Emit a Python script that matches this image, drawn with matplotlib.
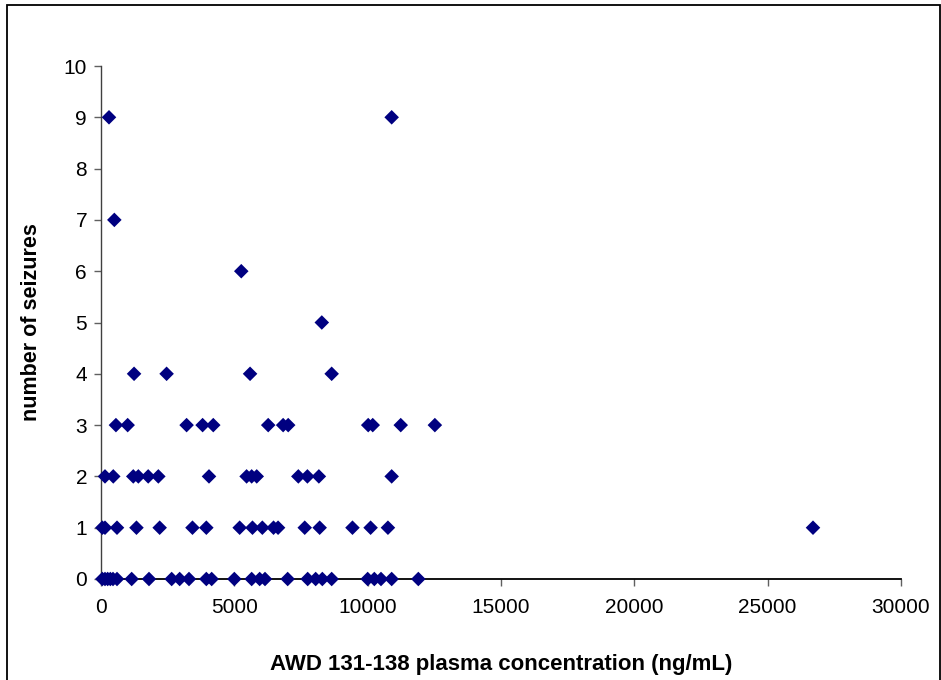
import matplotlib
matplotlib.use("Agg")
import matplotlib.pyplot as plt
from matplotlib.patches import Rectangle

plt.rcParams['font.family'] = ['Liberation Sans', 'DejaVu Sans']

# AWD 131-138 plasma concentration (ng/mL) grouped by number of seizures
conc_0 = [50, 150, 250, 350, 450, 600, 1150, 1800, 2650, 2950, 3300, 3950, 4150,
          5000, 5650, 5950, 6150, 7000, 7750, 8050, 8300, 8650, 10000, 10250,
          10500, 10900, 11900]
conc_1 = [50, 150, 600, 1330, 2200, 3430, 3950, 5200, 5680, 6050, 6470, 6640,
          7640, 8200, 9430, 10110, 10760, 26700]
conc_2 = [150, 460, 1210, 1400, 1770, 2150, 4050, 5460, 5650, 5840, 7400, 7740,
          8170, 10900]
conc_3 = [560, 1000, 3210, 3810, 4210, 6270, 6830, 7020, 10020, 10190, 11240, 12520]
conc_4 = [1240, 2460, 5590, 8650]
conc_5 = [8280]
conc_6 = [5260]
conc_7 = [500]
conc_9 = [300, 10900]

groups = [(0, conc_0), (1, conc_1), (2, conc_2), (3, conc_3), (4, conc_4),
          (5, conc_5), (6, conc_6), (7, conc_7), (9, conc_9)]

xs, ys = [], []
for n, vals in groups:
    xs.extend(vals)
    ys.extend([n] * len(vals))

x_ticks = [0, 5000, 10000, 15000, 20000, 25000, 30000]
y_ticks = list(range(0, 11))

fig = plt.figure(figsize=(9.41, 6.80), dpi=100)
ax = fig.add_axes([101/941, (680-579)/680, 800/941, 513/680])

ax.scatter(xs, ys, marker='D', s=55, color='#000080', edgecolors='none',
           zorder=3, clip_on=False)

ax.set_xlim(0, 30000)
ax.set_ylim(0, 10)
ax.set_xticks(x_ticks)
ax.set_yticks(y_ticks)
ax.set_xticklabels([str(t) for t in x_ticks])
ax.set_yticklabels([str(t) for t in y_ticks])

for s in ['top', 'right']:
    ax.spines[s].set_visible(False)
ax.spines['left'].set_color('#404040')
ax.spines['bottom'].set_color('black')
ax.spines['left'].set_linewidth(1.0)
ax.spines['bottom'].set_linewidth(1.3)

ax.tick_params(axis='both', direction='out', length=5, width=1, color='#606060',
               labelsize=15, labelcolor='black')
ax.tick_params(axis='y', pad=5)
ax.tick_params(axis='x', pad=9)

ax.set_xlabel('AWD 131-138 plasma concentration (ng/mL)', fontsize=16,
              fontweight='bold', labelpad=26)
ax.set_ylabel('number of seizures', fontsize=15.5, fontweight='bold', labelpad=16)

# outer chart border
fig.patches.append(Rectangle((7/941, -0.01), (940-7)/941, (680-5)/680 + 0.01,
                             transform=fig.transFigure, fill=False,
                             edgecolor='black', linewidth=1.3, zorder=10))

fig.savefig('out.png', dpi=100, facecolor='white')
